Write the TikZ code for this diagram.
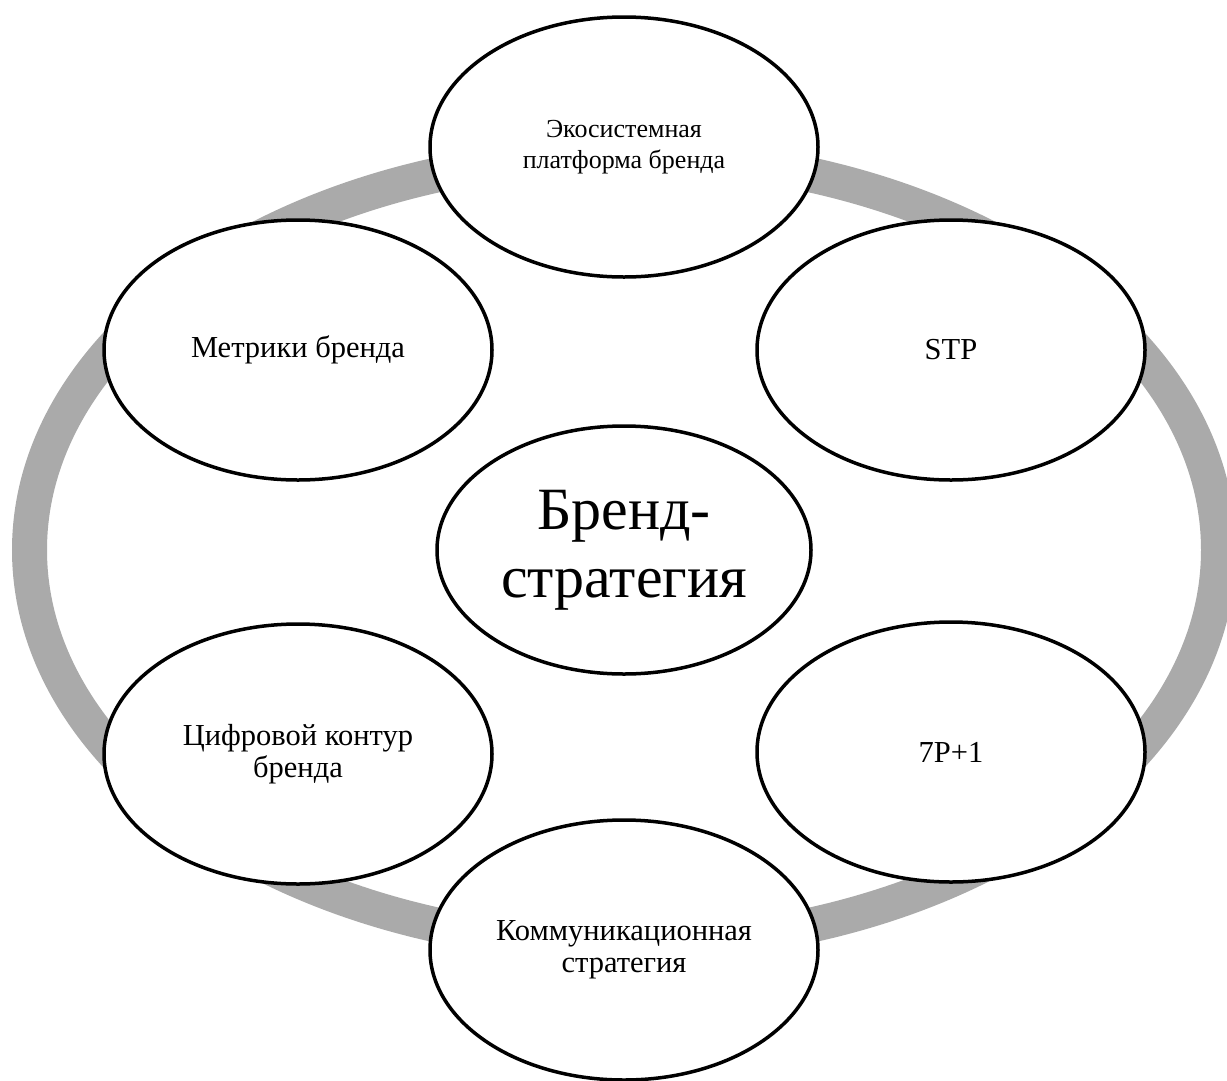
\documentclass[tikz,border=0pt]{standalone}
\usepackage{fontspec}
\setmainfont{Liberation Serif}
\usetikzlibrary{shapes.geometric}

\definecolor{ringgray}{RGB}{170,170,170}

\tikzset{
  orbit/.style={ellipse, draw=ringgray, line width=35pt, inner sep=0pt,
    minimum width=1189pt, minimum height=790pt},
  topic/.style={ellipse, draw=black, fill=white, line width=3.5pt, inner sep=0pt,
    minimum width=388pt, minimum height=260pt, align=center,
    font=\fontsize{30.5}{32}\selectfont},
  small text/.style={font=\fontsize{26}{31}\selectfont},
  hub/.style={ellipse, draw=black, fill=white, line width=3.5pt, inner sep=0pt,
    minimum width=374pt, minimum height=248pt, align=center,
    font=\fontsize{60}{68}\selectfont}
}

\begin{document}
\begin{tikzpicture}[x=1pt, y=-1pt]
  \useasboundingbox (0,0) rectangle (1227,1080);

  % gray ring behind the topics
  \node[orbit] (ring) at (624,550) {};

  % topics placed on the ring
  \node[topic, small text] (eco) at (624,147) {Экосистемная\\платформа бренда};
  \node[topic] (metr) at (298,350) {Метрики бренда};
  \node[topic] (stp)  at (951,350) {STP};
  \node[topic] (digi) at (298,754) {Цифровой контур\\бренда};
  \node[topic] (sevp) at (951,752) {7P+1};
  \node[topic] (comm) at (624,950) {Коммуникационная\\стратегия};

  % central hub
  \node[hub] (core) at (624,550) {Бренд-\\стратегия};
\end{tikzpicture}
\end{document}
